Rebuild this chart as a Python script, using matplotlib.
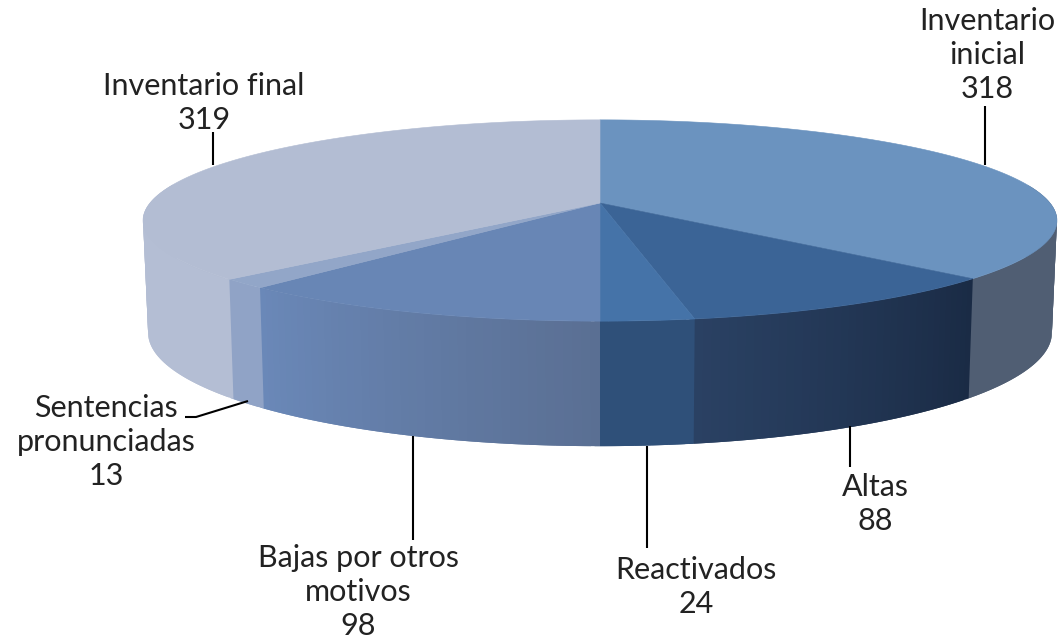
import numpy as np
import matplotlib
matplotlib.use("Agg")
import matplotlib.pyplot as plt
from matplotlib.colors import to_rgb
from matplotlib.patches import Polygon

# datos (sentido horario desde arriba)
labels = ["Inventario\ninicial\n318", "Altas\n88", "Reactivados\n24",
          "Bajas por otros\nmotivos\n98", "Sentencias\npronunciadas\n13",
          "Inventario final\n319"]
values = [318, 88, 24, 98, 13, 319]

# colores: cara superior, pared al inicio y al final del sector
top_colors = ["#6b93bf", "#3b6496", "#4573a8", "#6886b5", "#92a6c8", "#b3bdd3"]
wall_start = ["#505e73", "#1a2b45", "#2f5079", "#5a6f93", "#90a3c6", "#b4bed4"]
wall_end = ["#505e73", "#2a4163", "#2f5079", "#6a88b8", "#90a3c6", "#b4bed4"]

# posicion de las etiquetas y lineas guia
label_pos = [(987, 55), (875, 504), (696, 587), (358, 592), (106, 442), (204, 103)]
leaders = [([985, 985], [106, 165]), ([850, 850], [426, 467]),
           ([647, 647], [446, 548]), ([413, 413], [436, 540]),
           ([185, 196, 248], [417, 417, 401]), ([213, 213], [132, 165])]

CX = 600
K = 0.174


def project(t, a, y0, b):
    # disco con perspectiva: t en radianes desde arriba, horario
    u = np.sin(t)
    v = -np.cos(t)
    s = 1 / (1 - K * v)
    return CX + a * u * s, y0 + b * v * s


def top(t):
    return project(t, 450, 203, 97.6)


def bottom(t):
    return project(t, 445, 313, 110)


def mix(c1, c2, f):
    c1, c2 = np.array(to_rgb(c1)), np.array(to_rgb(c2))
    return tuple(c1 + (c2 - c1) * f)


fig = plt.figure(figsize=(10.58, 6.39), dpi=100)
ax = fig.add_axes([0, 0, 1, 1])
ax.set_xlim(0, 1058)
ax.set_ylim(639, 0)
ax.axis("off")

edges = np.cumsum([0] + values) / sum(values) * 2 * np.pi

# paredes del cilindro, solo la parte frontal
# cada tira se solapa con la siguiente para que no queden costuras
for i in range(len(values)):
    t0, t1 = max(edges[i], np.pi * 0.44), min(edges[i + 1], np.pi * 1.56)
    if t1 <= t0:
        continue
    steps = np.linspace(t0, t1, int((t1 - t0) * 60) + 2)
    for j in range(len(steps) - 1):
        end = t1 + 0.01 if j + 2 >= len(steps) else steps[j + 2]
        ts = np.linspace(steps[j], end, 4)
        xa, ya = top(ts)
        xb, yb = bottom(ts)
        pts = np.column_stack([np.r_[xa, xb[::-1]], np.r_[ya, yb[::-1]]])
        col = mix(wall_start[i], wall_end[i], j / max(len(steps) - 2, 1))
        ax.add_patch(Polygon(pts, facecolor=col, edgecolor="none"))

# caras superiores
for i in range(len(values)):
    ts = np.linspace(edges[i], edges[i + 1], 200)
    x, y = top(ts)
    pts = np.column_stack([np.r_[CX, x], np.r_[203, y]])
    ax.add_patch(Polygon(pts, facecolor=top_colors[i], edgecolor=top_colors[i], lw=0.4))

for xs, ys in leaders:
    ax.plot(xs, ys, color="black", lw=1.5, solid_capstyle="butt")

for txt, (x, y) in zip(labels, label_pos):
    ax.text(x, y, txt, ha="center", va="center", fontsize=22, family="Lato",
            color="#222222", linespacing=1.26)

fig.savefig("out.png", dpi=100)
